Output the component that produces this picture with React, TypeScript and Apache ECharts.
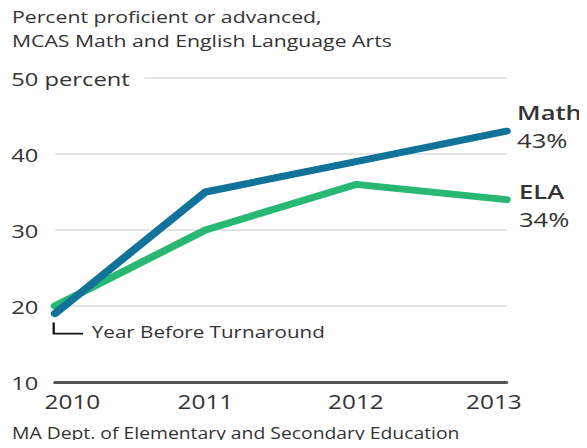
import React, { useEffect, useRef } from "react";
import * as echarts from "echarts";

const years = ["2010", "2011", "2012", "2013"];
const mathValues = [19, 35, 39, 43];
const elaValues = [20, 30, 36, 34];
const yTicks = { min: 10, max: 50, interval: 10 };
const titleLines = ["Percent proficient or advanced,", "MCAS Math and English Language Arts"];
const sourceText = "MA Dept. of Elementary and Secondary Education";
const noteText = "Year Before Turnaround";

const FONT = "'Open Sans', sans-serif";
const TEXT = "#333333";
const MATH_C = "#11739a";
const ELA_C = "#29b874";

// The reference artwork is horizontally stretched; draw at a narrower width and stretch.
const OUT_W = 587;
const BASE_W = 470;
const H = 448;
const SX = OUT_W / BASE_W;

export default function App() {
  const ref = useRef<HTMLDivElement>(null);
  useEffect(() => {
    if (!ref.current) return;
    const chart = echarts.init(ref.current, undefined, { renderer: "svg" });
    const last = years.length - 1;
    const endRich = {
      n: { fontSize: 20.5, fontWeight: 600, color: TEXT, fontFamily: FONT, lineHeight: 28 },
      v: { fontSize: 20.5, fontWeight: 400, color: TEXT, fontFamily: FONT, lineHeight: 28 },
    };
    chart.setOption({
      animation: false,
      backgroundColor: "#ffffff",
      textStyle: { fontFamily: FONT },
      grid: { left: 44, right: 64.5, top: 78, bottom: 66, containLabel: false },
      xAxis: {
        type: "category",
        data: years,
        boundaryGap: false,
        axisLine: { show: true, lineStyle: { color: "#555555", width: 3 } },
        axisTick: { show: false },
        splitLine: { show: false },
        axisLabel: {
          margin: 9,
          color: TEXT,
          fontSize: 19.5,
          fontFamily: FONT,
          formatter: (v: string, i: number) =>
            i === 0 ? `{l|${v}}` : i === last ? `{r|${v}}` : v,
          rich: {
            l: { padding: [0, 0, 0, 28], fontSize: 19.5, color: TEXT, fontFamily: FONT },
            r: { padding: [0, 20, 0, 0], fontSize: 19.5, color: TEXT, fontFamily: FONT },
          },
        },
      },
      yAxis: {
        type: "value",
        min: yTicks.min,
        max: yTicks.max,
        interval: yTicks.interval,
        axisLine: { show: false },
        axisTick: { show: false },
        splitLine: {
          show: true,
          lineStyle: { color: "#dcdcdc", width: 1.5 },
        },
        axisLabel: {
          align: "left",
          margin: 35,
          color: TEXT,
          fontSize: 19,
          fontFamily: FONT,
          formatter: (v: number) => (v === yTicks.max ? `{p|${v} percent}` : `${v}`),
          rich: {
            p: {
              fontSize: 19,
              color: TEXT,
              fontFamily: FONT,
              backgroundColor: "#ffffff",
              padding: [2, 12, 2, 0],
            },
          },
        },
      },
      series: [
        {
          name: "ELA",
          type: "line",
          data: elaValues,
          symbol: "none",
          lineStyle: { color: ELA_C, width: 7, cap: "round", join: "round" },
          endLabel: {
            show: true,
            distance: 10,
            offset: [0, 5],
            formatter: (p: any) => `{n|ELA}\n{v|${p.value}%}`,
            rich: endRich,
          },
          z: 2,
        },
        {
          name: "Math",
          type: "line",
          data: mathValues,
          symbol: "none",
          lineStyle: { color: MATH_C, width: 7, cap: "round", join: "round" },
          endLabel: {
            show: true,
            distance: 8.5,
            offset: [0, -5],
            formatter: (p: any) => `{n|Math}\n{v|${p.value}%}`,
            rich: endRich,
          },
          z: 3,
        },
      ],
    });
    const [px, py] = chart.convertToPixel({ gridIndex: 0 }, [0, mathValues[0]]) as number[];
    chart.setOption({
      graphic: [
        {
          id: "title",
          type: "text",
          left: 9.6,
          top: 4,
          style: {
            text: titleLines.join("\n"),
            fontSize: 17,
            lineHeight: 24,
            fill: TEXT,
            fontFamily: FONT,
          },
        },
        {
          id: "source",
          type: "text",
          left: 9.6,
          top: 425,
          style: { text: sourceText, fontSize: 15.5, fill: TEXT, fontFamily: FONT },
        },
        {
          id: "bracket",
          type: "polyline",
          shape: { points: [[px - 1, py + 9], [px - 1, py + 20], [px + 22.5, py + 20]] },
          style: { stroke: "#111111", lineWidth: 1.8, fill: null },
          z: 10,
        },
        {
          id: "note",
          type: "text",
          x: px + 29.5,
          y: py + 18,
          style: {
            text: noteText,
            fontSize: 16.5,
            fill: TEXT,
            fontFamily: FONT,
            verticalAlign: "middle",
          },
          z: 10,
        },
      ],
    });
    return () => chart.dispose();
  }, []);
  return (
    <div
      ref={ref}
      style={{
        width: BASE_W,
        height: H,
        margin: -8,
        transform: `scaleX(${SX})`,
        transformOrigin: "0 0",
      }}
    />
  );
}
